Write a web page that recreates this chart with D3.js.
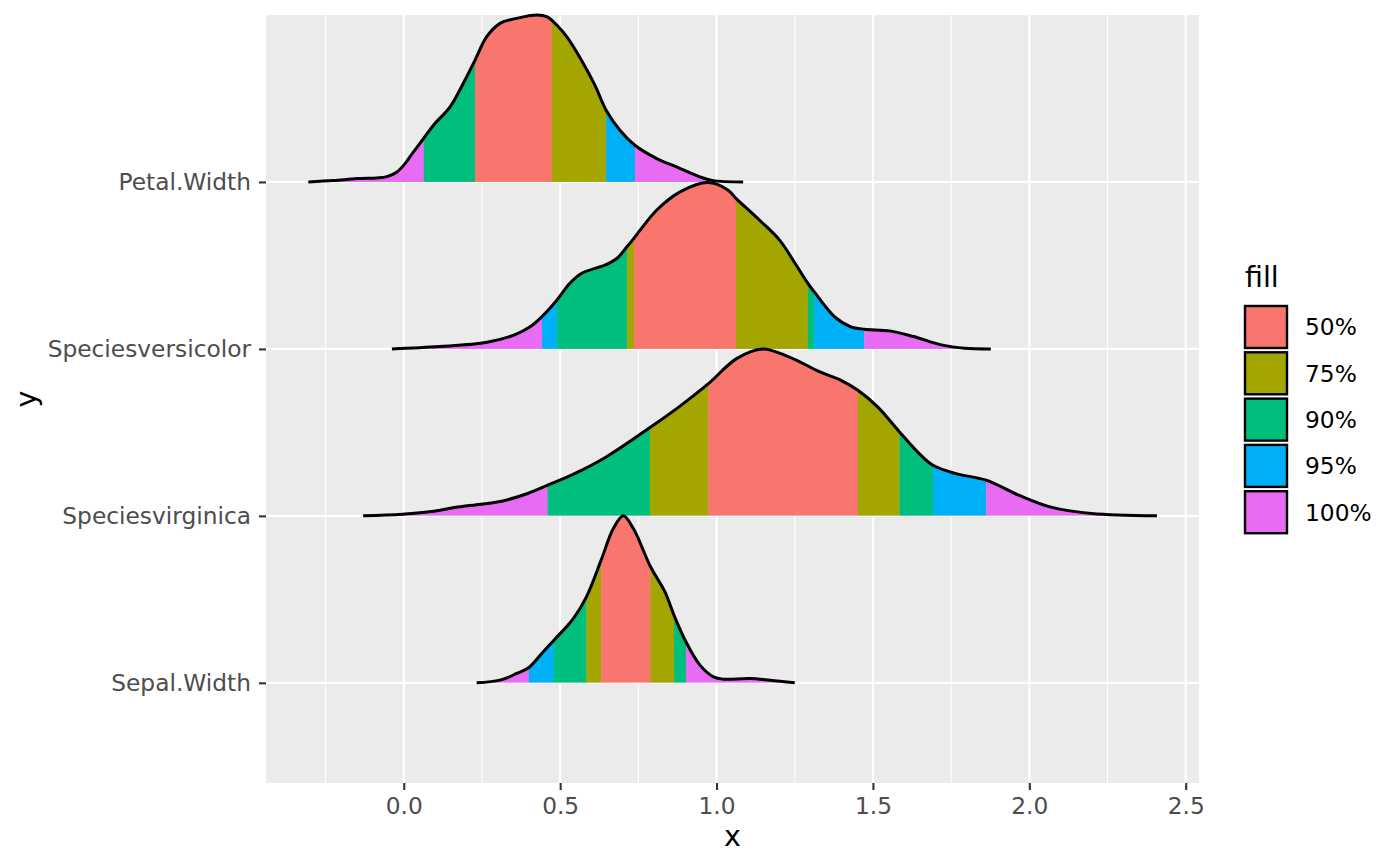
<!DOCTYPE html>
<html><head><meta charset="utf-8">
<script src="https://cdn.jsdelivr.net/npm/d3@7"></script>
<style>body{margin:0;background:#fff}svg{display:block}text{font-family:"DejaVu Sans",sans-serif}</style>
</head><body><svg id="c" width="1400" height="866"></svg>
<script>
// ---- data ----
const categories = ["Sepal.Width","Speciesvirginica","Speciesversicolor","Petal.Width"]; // y = 1..4 (bottom to top)
const levels = ["50%","75%","90%","95%","100%"];
const xTicks = [0,0.5,1,1.5,2,2.5];
const xMinor = [-0.25,0.25,0.75,1.25,1.75,2.25];

// density curves: [x, scaled height]
const densityPetalWidth = [[-0.305,0],[-0.225,0.008],[-0.150,0.02],[-0.086,0.024],[-0.054,0.032],[-0.022,0.06],[0.004,0.11],[0.031,0.18],[0.063,0.26],[0.095,0.34],[0.148,0.45],[0.190,0.59],[0.228,0.73],[0.265,0.87],[0.308,0.95],[0.361,0.98],[0.425,1.0],[0.457,0.99],[0.489,0.94],[0.521,0.87],[0.574,0.71],[0.611,0.58],[0.647,0.43],[0.691,0.31],[0.739,0.22],[0.809,0.14],[0.872,0.09],[0.947,0.03],[0.989,0.008],[1.085,0]];
const densityVersicolor = [[-0.038,0],[0.114,0.014],[0.266,0.04],[0.354,0.084],[0.405,0.134],[0.442,0.194],[0.490,0.293],[0.531,0.393],[0.569,0.453],[0.645,0.503],[0.682,0.543],[0.714,0.613],[0.736,0.663],[0.809,0.832],[0.885,0.942],[0.973,0.996],[1.036,0.952],[1.062,0.902],[1.137,0.772],[1.201,0.653],[1.251,0.513],[1.292,0.393],[1.312,0.343],[1.377,0.194],[1.428,0.134],[1.472,0.118],[1.554,0.108],[1.630,0.074],[1.719,0.024],[1.794,0.004],[1.877,0]];
const densityVirginica = [[-0.130,0],[-0.005,0.01],[0.096,0.028],[0.162,0.05],[0.246,0.07],[0.313,0.088],[0.396,0.134],[0.460,0.184],[0.546,0.253],[0.647,0.353],[0.787,0.529],[0.880,0.653],[0.974,0.792],[1.064,0.942],[1.147,1.0],[1.231,0.952],[1.331,0.862],[1.398,0.812],[1.452,0.752],[1.515,0.653],[1.585,0.503],[1.648,0.373],[1.692,0.303],[1.765,0.253],[1.862,0.214],[1.966,0.124],[2.066,0.054],[2.199,0.014],[2.408,0]];
const densitySepalWidth = [[0.233,0],[0.308,0.016],[0.361,0.056],[0.400,0.092],[0.446,0.186],[0.480,0.255],[0.542,0.385],[0.584,0.515],[0.631,0.735],[0.670,0.924],[0.702,1.0],[0.734,0.924],[0.789,0.695],[0.835,0.545],[0.864,0.405],[0.902,0.246],[0.947,0.106],[0.990,0.036],[1.021,0.022],[1.107,0.026],[1.171,0.016],[1.250,0]];

// interval bands: [from, to, level]
const bandsPetalWidth = [[-0.4,0.064,"100%"],[0.064,0.228,"90%"],[0.228,0.473,"50%"],[0.473,0.647,"75%"],[0.647,0.739,"95%"],[0.739,1.2,"100%"]];
const bandsVersicolor = [[-0.1,0.442,"100%"],[0.442,0.490,"95%"],[0.490,0.714,"90%"],[0.714,0.736,"75%"],[0.736,1.062,"50%"],[1.062,1.292,"75%"],[1.292,1.312,"90%"],[1.312,1.472,"95%"],[1.472,2.0,"100%"]];
const bandsVirginica = [[-0.2,0.460,"100%"],[0.460,0.787,"90%"],[0.787,0.974,"75%"],[0.974,1.452,"50%"],[1.452,1.585,"75%"],[1.585,1.692,"90%"],[1.692,1.862,"95%"],[1.862,2.5,"100%"]];
const bandsSepalWidth = [[0.2,0.400,"100%"],[0.400,0.480,"95%"],[0.480,0.584,"90%"],[0.584,0.631,"75%"],[0.631,0.789,"50%"],[0.789,0.864,"75%"],[0.864,0.902,"90%"],[0.902,1.3,"100%"]];

const rows = [
  {name:"Petal.Width", density:densityPetalWidth, bands:bandsPetalWidth},
  {name:"Speciesversicolor", density:densityVersicolor, bands:bandsVersicolor},
  {name:"Speciesvirginica", density:densityVirginica, bands:bandsVirginica},
  {name:"Sepal.Width", density:densitySepalWidth, bands:bandsSepalWidth}
];
const palette = ["#F8766D","#A3A500","#00BF7D","#00B0F6","#E76BF3"];

// ---- layout ----
const panel = {l:266, r:1199, t:15, b:783};
const svg = d3.select("#c");
const x = d3.scaleLinear().domain([-0.4405, 2.5425]).range([panel.l, panel.r]);
const y = d3.scaleLinear().domain([0.4, 5.0]).range([panel.b, panel.t]);
const color = d3.scaleOrdinal().domain(levels).range(palette);
const catPos = name => categories.indexOf(name) + 1;

svg.append("rect").attr("width",1400).attr("height",866).attr("fill","#fff");
svg.append("rect").attr("x",panel.l).attr("y",panel.t).attr("width",panel.r-panel.l).attr("height",panel.b-panel.t).attr("fill","#EBEBEB");

const grid = svg.append("g");
grid.selectAll("line.minor").data(xMinor).join("line")
  .attr("x1",d=>x(d)).attr("x2",d=>x(d)).attr("y1",panel.t).attr("y2",panel.b)
  .attr("stroke","#fff").attr("stroke-width",1.1);
grid.selectAll("line.majx").data(xTicks).join("line")
  .attr("x1",d=>x(d)).attr("x2",d=>x(d)).attr("y1",panel.t).attr("y2",panel.b)
  .attr("stroke","#fff").attr("stroke-width",2.2);
grid.selectAll("line.majy").data(categories).join("line")
  .attr("x1",panel.l).attr("x2",panel.r).attr("y1",d=>y(catPos(d))).attr("y2",d=>y(catPos(d)))
  .attr("stroke","#fff").attr("stroke-width",2.2);

const defs = svg.append("defs");
const curve = d3.curveCatmullRom.alpha(0.5);
rows.forEach((row,i)=>{
  const base = catPos(row.name);
  const area = d3.area().curve(curve).x(d=>x(d[0])).y0(y(base)).y1(d=>y(base+Math.max(0,d[1])));
  const line = d3.line().curve(curve).x(d=>x(d[0])).y(d=>y(base+d[1]));
  const id = "clip"+i;
  defs.append("clipPath").attr("id",id).append("path").attr("d",area(row.density));
  const g = svg.append("g");
  g.append("g").attr("clip-path",`url(#${id})`)
    .selectAll("rect").data(row.bands).join("rect")
    .attr("x",d=>x(d[0])).attr("width",d=>x(d[1])-x(d[0])+0.3)
    .attr("y",y(base+1.05)).attr("height",y(base)-y(base+1.05))
    .attr("fill",d=>color(d[2]));
  g.append("path").attr("d",line(row.density)).attr("fill","none")
    .attr("stroke","#000").attr("stroke-width",3).attr("stroke-linejoin","round").attr("stroke-linecap","butt");
});

// axes
const xAxis = svg.append("g").attr("transform",`translate(0,${panel.b})`)
  .call(d3.axisBottom(x).tickValues(xTicks).tickFormat(d3.format(".1f")).tickSize(7).tickPadding(7));
const yAxis = svg.append("g").attr("transform",`translate(${panel.l},0)`)
  .call(d3.axisLeft(y).tickValues(categories.map(catPos)).tickFormat(v=>categories[v-1]).tickSize(7).tickPadding(8));
[xAxis,yAxis].forEach(a=>{
  a.select(".domain").remove();
  a.selectAll(".tick line").attr("stroke","#333").attr("stroke-width",2.1);
  a.selectAll(".tick text").attr("fill","#4D4D4D").style("font-size","23.3px").style("font-family","DejaVu Sans");
});

svg.append("text").attr("x",(panel.l+panel.r)/2).attr("y",846).attr("text-anchor","middle")
  .style("font-size","28.5px").text("x");
svg.append("text").attr("transform",`translate(35.5,${(panel.t+panel.b)/2}) rotate(-90)`).attr("text-anchor","middle")
  .style("font-size","28.5px").text("y");

// legend
const lg = svg.append("g");
lg.append("text").attr("x",1245).attr("y",286.5).style("font-size","28.5px").text("fill");
const keyStep = 46.3, keyTop = 305;
const keys = lg.selectAll("g.key").data(levels).join("g").attr("transform",(d,i)=>`translate(1244,${keyTop+i*keyStep})`);
keys.append("rect").attr("x",1).attr("y",1).attr("width",42).attr("height",42).attr("fill",d=>color(d)).attr("stroke","#000").attr("stroke-width",2.4);
keys.append("text").attr("x",61).attr("y",22).attr("dy","0.36em").style("font-size","23.3px").attr("fill","#000").text(d=>d);
</script></body></html>
